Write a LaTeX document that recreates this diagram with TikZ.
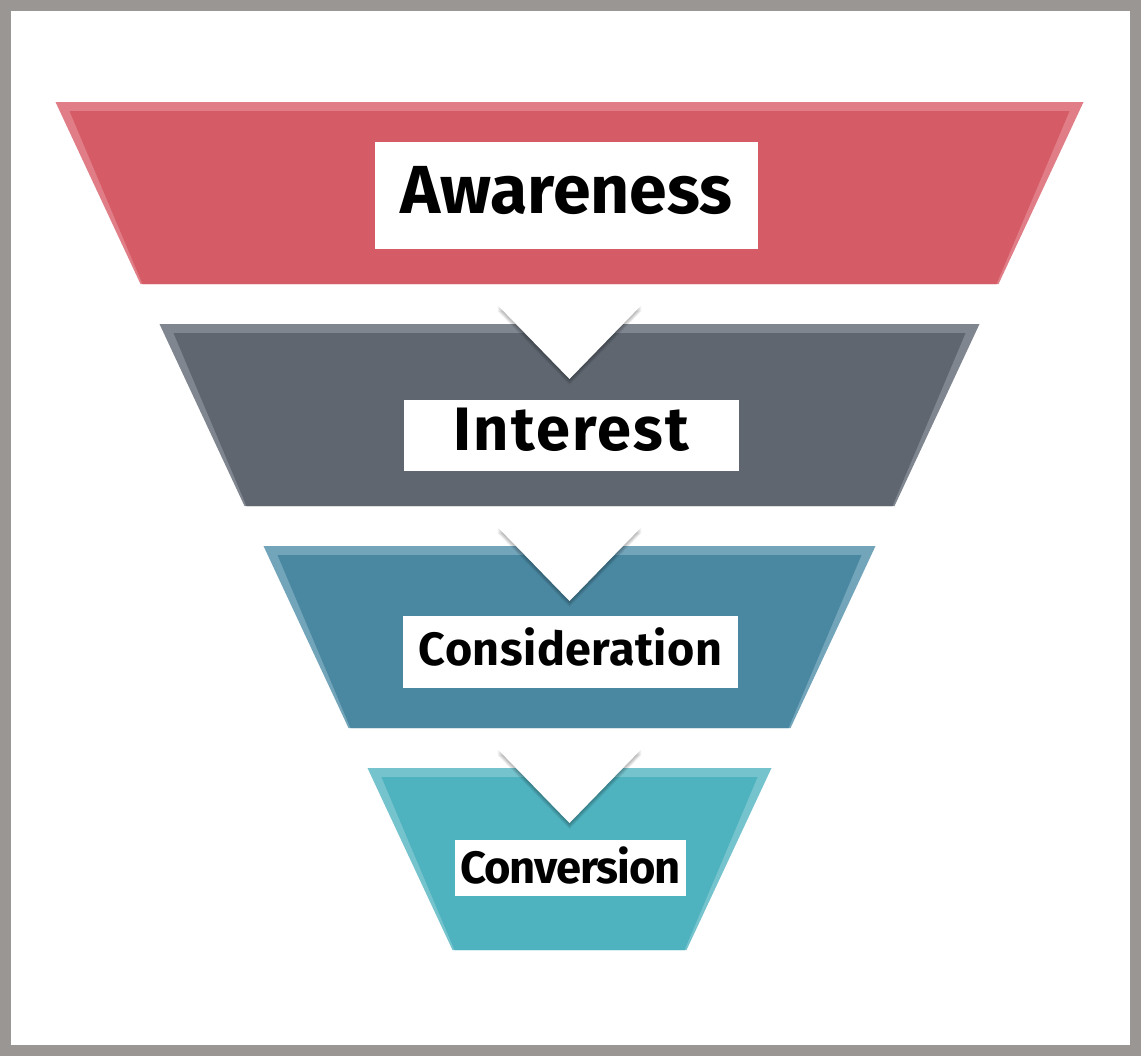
\documentclass[tikz,border=0pt]{standalone}
\usepackage{fontspec}
\setmainfont{Fira Sans}
\definecolor{frame}{HTML}{9A9694}
\definecolor{awr}{HTML}{D55C66}
\definecolor{awrl}{HTML}{E07D87}
\definecolor{intr}{HTML}{5F6670}
\definecolor{intrl}{HTML}{80868F}
\definecolor{cons}{HTML}{4A88A2}
\definecolor{consl}{HTML}{72A4BA}
\definecolor{conv}{HTML}{4EB2BF}
\definecolor{convl}{HTML}{74C3CD}
\begin{document}
\begin{tikzpicture}[x=0.75pt,y=-0.75pt,
    label box/.style={fill=white, inner sep=0pt, text depth=0pt}]
    \fill[frame] (0,0) rectangle (1141,1056);
    \fill[white] (11,11) rectangle (1130,1045);
    \foreach \i/\c/\l in {0/awr/awrl,1/intr/intrl,2/cons/consl,3/conv/convl}{
        \pgfmathsetmacro\t{102+222*\i}
        \pgfmathsetmacro\w{514-104*\i}
        \fill[\l] ({569.5-\w},\t) -- ({569.5+\w},\t) -- ({569.5+\w-85},\t+182) -- ({569.5-\w+85},\t+182) -- cycle;
        \fill[\c] ({569.5-\w+14},\t+9) -- ({569.5+\w-14},\t+9) -- ({569.5+\w-87},\t+182) -- ({569.5-\w+87},\t+182) -- cycle;
    }
    \foreach \i in {1,2,3}{
        \pgfmathsetmacro\t{102+222*\i}
        \foreach \k in {1,...,6}
            \fill[black, opacity=0.05] (497.5,\t-19+\k) -- (641.5,\t-19+\k) -- (569.5,\t+55+\k) -- cycle;
        \fill[white] (497.5,\t-19) -- (641.5,\t-19) -- (569.5,\t+55) -- cycle;
    }
    \node[label box, minimum width=287.25pt, minimum height=80.25pt, text height=26.25pt,
        font=\bfseries\fontsize{51}{51}\selectfont] (awareness) at (566.5,195.5) {Awareness};
    \node[label box, minimum width=251.25pt, minimum height=53.25pt, text height=21.75pt,
        font=\bfseries\fontsize{46}{46}\selectfont\addfontfeature{LetterSpace=3.7}] (interest) at (571.5,435.5) {Interest};
    \node[label box, minimum width=251.25pt, minimum height=54pt, text height=19.5pt,
        font=\bfseries\fontsize{35}{35}\selectfont\addfontfeature{LetterSpace=1}] (consideration) at (570.5,652) {Consideration};
    \node[label box, minimum width=173.25pt, minimum height=42pt, text height=22.5pt,
        font=\bfseries\fontsize{34}{34}\selectfont\addfontfeature{LetterSpace=-2.4}] (conversion) at (570.5,868) {Conversion};
\end{tikzpicture}
\end{document}
